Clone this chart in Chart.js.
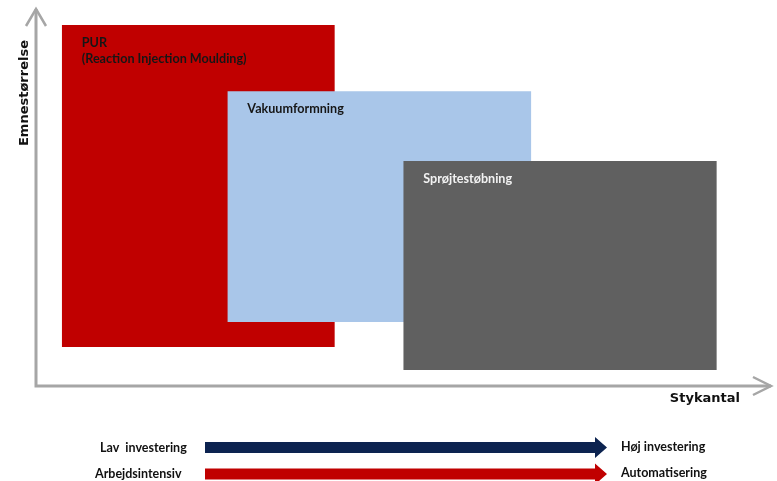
<!DOCTYPE html>
<html><head><meta charset="utf-8">
<script src="https://cdn.jsdelivr.net/npm/chart.js@4"></script>
<style>html,body{margin:0;padding:0;background:#fff}#wrap{width:777px;height:481px;position:relative}</style>
</head><body><div id="wrap"><canvas id="c" width="777" height="481"></canvas></div>
<script>
// Processes (rectangles) in abstract units: x = Stykantal (0-100), y = Emnestørrelse (0-100)
const processes = ['PUR\n(Reaction Injection Moulding)', 'Vakuumformning', 'Sprøjtestøbning'];
const xStart = [3.5, 26.0, 49.9];
const xEnd   = [40.6, 67.3, 92.5];
const yStart = [10.3, 16.9, 4.2];
const yEnd   = [95.5, 78.0, 59.5];
const fillColors  = ['#C00000', '#A9C6E9', '#606060'];
const labelColors = ['#161616', '#161616', '#f2f2f2'];
const xAxisTitle = 'Stykantal';
const yAxisTitle = 'Emnestørrelse';
const scaleLeft  = ['Lav  investering', 'Arbejdsintensiv'];
const scaleRight = ['Høj investering', 'Automatisering'];
const scaleColors = ['#0C2350', '#C00000'];

const datasets = processes.map((name, i) => ({
  label: name,
  data: [{x: xStart[i], y: yEnd[i]}, {x: xEnd[i], y: yEnd[i]}],
  showLine: true,
  borderWidth: 0,
  borderColor: 'rgba(0,0,0,0)',
  pointRadius: 0,
  backgroundColor: fillColors[i],
  fill: {value: yStart[i]},
  order: processes.length - i
}));

const decor = {
  id: 'decor',
  afterDraw(chart) {
    const ctx = chart.ctx, a = chart.chartArea;
    const xs = chart.scales.x, ys = chart.scales.y;
    ctx.save();
    // box labels
    ctx.textBaseline = 'alphabetic';
    ctx.textAlign = 'left';
    ctx.font = 'bold 12.6px Lato';
    processes.forEach((name, i) => {
      const px = xs.getPixelForValue(xStart[i]) + 20;
      const py = ys.getPixelForValue(yEnd[i]) + 22;
      ctx.fillStyle = labelColors[i];
      name.split('\n').forEach((ln, k) => ctx.fillText(ln, px, py + k * 16));
    });
    // axes
    ctx.strokeStyle = '#A6A6A6';
    ctx.lineWidth = 3;
    ctx.lineCap = 'butt';
    ctx.beginPath();
    ctx.moveTo(a.left, a.bottom + 1.5);
    ctx.lineTo(a.left, a.top + 1);
    ctx.moveTo(a.left - 1.5, a.bottom);
    ctx.lineTo(a.right - 1, a.bottom);
    ctx.stroke();
    ctx.lineWidth = 2.5;
    ctx.lineJoin = 'miter';
    ctx.beginPath();
    ctx.moveTo(a.left - 10, a.top + 18);
    ctx.lineTo(a.left, a.top + 1);
    ctx.lineTo(a.left + 10, a.top + 18);
    ctx.moveTo(a.right - 19, a.bottom - 9);
    ctx.lineTo(a.right - 1, a.bottom);
    ctx.lineTo(a.right - 19, a.bottom + 9);
    ctx.stroke();
    // axis titles
    ctx.fillStyle = '#111';
    ctx.font = 'bold 13px "DejaVu Sans"';
    ctx.textAlign = 'right';
    ctx.fillText(xAxisTitle, a.right - 32, a.bottom + 16);
    ctx.save();
    ctx.translate(a.left - 11, a.top + 85);
    ctx.rotate(-Math.PI / 2);
    ctx.textAlign = 'center';
    ctx.textBaseline = 'middle';
    ctx.fillText(yAxisTitle, 0, 0);
    ctx.restore();
    // bottom arrows
    const rows = [447.5, 474];
    rows.forEach((cy, i) => {
      ctx.fillStyle = scaleColors[i];
      ctx.beginPath();
      ctx.moveTo(205, cy - 5.5);
      ctx.lineTo(595, cy - 5.5);
      ctx.lineTo(595, cy - 10.5);
      ctx.lineTo(607, cy);
      ctx.lineTo(595, cy + 10.5);
      ctx.lineTo(595, cy + 5.5);
      ctx.lineTo(205, cy + 5.5);
      ctx.closePath();
      ctx.fill();
      ctx.fillStyle = '#111';
      ctx.font = 'bold 12.5px Lato';
      ctx.textBaseline = 'middle';
      ctx.textAlign = 'left';
      ctx.fillText(scaleLeft[i], i === 0 ? 100 : 95, cy);
      ctx.fillText(scaleRight[i], 621, cy - 1);
    });
    ctx.restore();
  }
};

new Chart(document.getElementById('c'), {
  type: 'line',
  data: {datasets},
  options: {
    responsive: false,
    animation: false,
    layout: {padding: {left: 36, top: 8, right: 5, bottom: 95}},
    plugins: {legend: {display: false}, tooltip: {enabled: false}},
    scales: {
      x: {type: 'linear', min: 0, max: 100, display: false},
      y: {type: 'linear', min: 0, max: 100, display: false}
    }
  },
  plugins: [decor]
});
</script></body></html>
